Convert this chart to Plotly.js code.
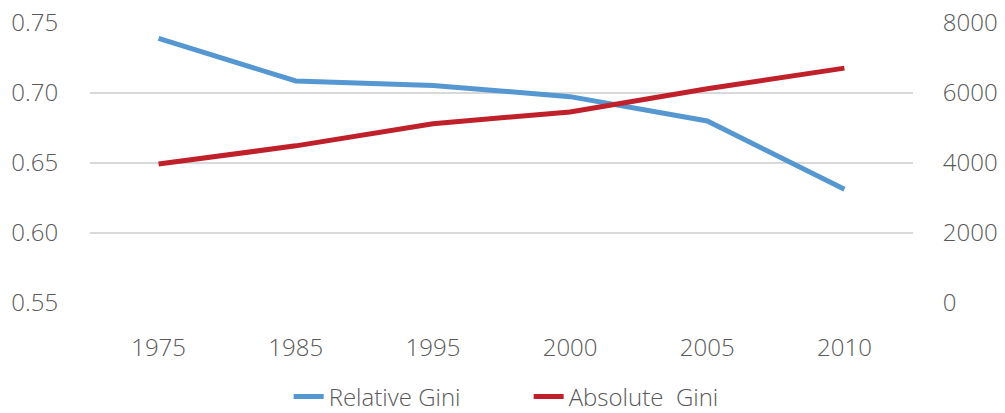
<!DOCTYPE html>
<html>
<head>
<meta charset="utf-8">
<script src="https://cdn.plot.ly/plotly-3.0.1.min.js"></script>
<style>html,body{margin:0;padding:0;background:#fff;}#chart{width:1005px;height:413px;}</style>
</head>
<body>
<div id="chart"></div>
<script>
const years = ['1975', '1985', '1995', '2000', '2005', '2010'];
const relativeGini = [0.739, 0.7086, 0.7054, 0.6974, 0.680, 0.6312];
const absoluteGini = [3970, 4490, 5120, 5460, 6120, 6710];
const leftTicks = [0.55, 0.60, 0.65, 0.70, 0.75];
const rightTicks = [0, 2000, 4000, 6000, 8000];

const font = {family: 'Open Sans, sans-serif', size: 24, color: '#595959', weight: 300};
const clear = 'rgba(0,0,0,0)';

const data = [
  {x: years, y: relativeGini, name: 'Relative Gini', type: 'scatter', mode: 'lines',
   line: {color: '#5597D1', width: 5}, yaxis: 'y'},
  {x: years, y: absoluteGini, name: 'Absolute  Gini', type: 'scatter', mode: 'lines',
   line: {color: '#C0202A', width: 5}, yaxis: 'y2'}
];

const layout = {
  width: 1005, height: 413,
  margin: {l: 90, r: 92, t: 23, b: 110, autoexpand: false},
  paper_bgcolor: '#fff', plot_bgcolor: '#fff',
  font: font,
  showlegend: true,
  legend: {orientation: 'h', x: 0.533, xanchor: 'center', y: -0.335, yanchor: 'middle',
           font: font, entrywidth: 195, entrywidthmode: 'pixels', tracegroupgap: 0},
  xaxis: {type: 'category', range: [-0.5, 5.5], showgrid: false, zeroline: false, showline: false,
          ticks: 'outside', ticklen: 23, tickcolor: clear, tickfont: font, automargin: false},
  yaxis: {range: [0.55, 0.75], tickvals: leftTicks, ticktext: leftTicks.map(v => v.toFixed(2)),
          showgrid: true, gridcolor: '#D9D9D9', gridwidth: 1.5, zeroline: false, showline: false,
          ticks: 'outside', ticklen: 26, tickcolor: clear, tickfont: font, automargin: false},
  yaxis2: {range: [0, 8000], tickvals: rightTicks, ticktext: rightTicks.map(String),
           overlaying: 'y', side: 'right', showgrid: false, zeroline: false, showline: false,
           ticks: 'outside', ticklen: 24, tickcolor: clear, tickfont: font, automargin: false}
};

Plotly.newPlot('chart', data, layout, {displayModeBar: false, staticPlot: true});
</script>
</body>
</html>
